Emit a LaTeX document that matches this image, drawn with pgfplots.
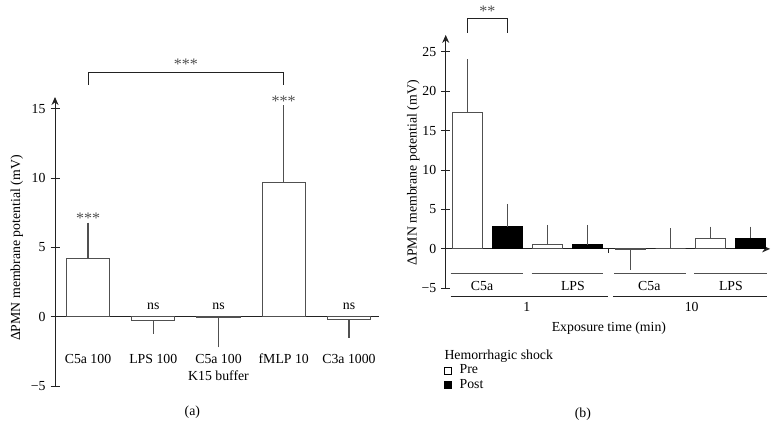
\documentclass[border=0pt]{standalone}
\usepackage{fontspec}
\setmainfont{Liberation Serif}
\usepackage{pgfplots}
\pgfplotsset{compat=1.18}
\usetikzlibrary{arrows.meta}
\definecolor{edge}{HTML}{505050}
\definecolor{axc}{HTML}{222222}
\begin{document}
\fontsize{6.9}{8.3}\selectfont
\begin{tikzpicture}
\useasboundingbox (0,0) rectangle (390pt,219.5pt);
\pgfplotsset{
 common/.style={
  scale only axis, anchor=south west, clip=false,
  axis y line=left,
  y axis line style={axc, line width=0.5pt, -{Stealth[length=4pt,width=3.5pt]}},
  x axis line style={axc, line width=0.5pt},
  tick align=center, major tick length=4.5pt,
  every tick/.style={axc, line width=0.5pt},
  x tick style={draw=none},
  hide obscured x ticks=false, hide obscured y ticks=false,
  ylabel={ΔPMN membrane potential (mV)},
  ylabel style={rotate=0, anchor=center},
  error bars/error bar style={edge, line width=0.55pt},
  error bars/error mark options={mark size=1.5pt, edge, line width=0.55pt},
 }
}
% ---------------- panel (a)
\begin{axis}[common, at={(27.5pt,26.5pt)}, width=162pt, height=144.5pt,
 xmin=-0.506, xmax=4.46, ymin=-5, ymax=15.86,
 axis x line*=middle,
 ytick={-5,0,5,10,15}, yticklabels={−5,0,5,10,15},
 xtick={0,1,2,3,4}, xticklabels={C5a 100, LPS 100, C5a 100, fMLP 10, C3a 1000},
 xticklabel style={anchor=base, yshift=-21pt},
 ylabel style={at={(axis description cs:-0.118,0.477)}},
]
\addplot[ybar, bar width=21.5pt, bar shift=0pt, draw=edge, fill=white, line width=0.6pt,
  error bars/.cd, y dir=plus, y explicit]
  coordinates {(0,4.18) +- (0,2.40) (3,9.68) +- (0,5.37)};
\addplot[ybar, bar width=21.5pt, bar shift=0pt, draw=edge, fill=white, line width=0.6pt,
  error bars/.cd, y dir=minus, y explicit]
  coordinates {(1,-0.29) +- (0,0.71) (2,-0.08) +- (0,1.92) (4,-0.2) +- (0,1.1)};
\draw[axc, line width=0.5pt] (axis cs:0,16.75) -- (axis cs:0,17.64) -- (axis cs:3,17.64) -- (axis cs:3,16.75);
\node[anchor=south, inner sep=1pt, text=edge, font=\fontsize{8}{9}\selectfont] at (axis cs:1.5,17.64) {***};
\node[anchor=south, inner sep=0pt, text=edge, font=\fontsize{8}{9}\selectfont] at (axis cs:0,6.7) {***};
\node[anchor=south, inner sep=0pt, text=edge, font=\fontsize{8}{9}\selectfont] at (axis cs:3,15.15) {***};
\node[anchor=base, inner sep=0pt] at (axis cs:1,0.5) {ns};
\node[anchor=base, inner sep=0pt] at (axis cs:2,0.5) {ns};
\node[anchor=base, inner sep=0pt] at (axis cs:4,0.5) {ns};
\node[anchor=base, inner sep=0pt] at (axis cs:2,-4.61) {K15 buffer};
\node[anchor=base, inner sep=0pt] at (axis cs:1.6,-7.1) {(a)};
\end{axis}
% ---------------- panel (b)
\begin{axis}[common, at={(222.85pt,75.35pt)}, width=162.2pt, height=126.7pt,
 xmin=-0.54, xmax=7.57, ymin=-5, ymax=27.15,
 axis x line=middle,
 x axis line style={axc, line width=0.5pt, -{Stealth[length=4pt,width=3.5pt]}},
 ytick={-5,0,5,10,15,20,25}, yticklabels={−5,0,5,10,15,20,25},
 xtick=\empty,
 ylabel style={at={(axis description cs:-0.1,0.455)}},
 legend cell align=left,
 legend style={at={(axis description cs:-0.005,-0.296)}, anchor=north west, draw=none, fill=none,
   inner sep=0pt, row sep=0.6pt, column sep=3pt, nodes={inner sep=0.6pt}},
]
\addplot[ybar, bar width=15pt, bar shift=0pt, draw=edge, fill=white, line width=0.6pt,
  legend image code/.code={\draw[black, fill=white, line width=0.45pt] (0pt,-1.75pt) rectangle (3.5pt,1.75pt);},
  error bars/.cd, y dir=plus, y explicit]
  coordinates {(0,17.29) +- (0,6.4) (2,0.55) +- (0,2.12) (6.08,1.36) +- (0,1.1)};
\addlegendentry{Pre}
\addplot[ybar, bar width=15pt, bar shift=0pt, draw=black, fill=black, line width=0.5pt,
  legend image code/.code={\draw[black, fill=black, line width=0.45pt] (0pt,-1.75pt) rectangle (3.5pt,1.75pt);},
  error bars/.cd, y dir=plus, y explicit]
  coordinates {(1,2.80) +- (0,2.54) (3,0.55) +- (0,2.12) (7.08,1.36) +- (0,1.1)};
\addlegendentry{Post}
\addplot[forget plot, ybar, bar width=15pt, bar shift=0pt, draw=edge, fill=white, line width=0.6pt,
  error bars/.cd, y dir=minus, y explicit]
  coordinates {(4.08,-0.08) +- (0,2.21)};
\addplot[forget plot, ybar, bar width=15pt, bar shift=0pt, draw=edge, fill=none, line width=0.5pt,
  error bars/.cd, y dir=plus, y explicit]
  coordinates {(5.08,0) +- (0,2.25)};
\draw[axc, line width=0.5pt] (axis cs:3.525,0) -- (axis cs:3.525,-0.5);
\draw[axc, line width=0.5pt] (axis cs:0,27.4) -- (axis cs:0,29.2) -- (axis cs:1,29.2) -- (axis cs:1,27.4);
\node[anchor=south, inner sep=1pt, text=edge, font=\fontsize{8}{9}\selectfont] at (axis cs:0.5,29.2) {**};
\draw[edge, line width=0.6pt] (axis cs:-0.415,-3.13) -- (axis cs:1.4,-3.13);
\draw[edge, line width=0.6pt] (axis cs:1.61,-3.13) -- (axis cs:3.385,-3.13);
\draw[edge, line width=0.6pt] (axis cs:3.67,-3.13) -- (axis cs:5.47,-3.13);
\draw[edge, line width=0.6pt] (axis cs:5.67,-3.13) -- (axis cs:7.485,-3.13);
\node[anchor=base, inner sep=0pt] at (axis cs:0.37,-5.34) {C5a};
\node[anchor=base, inner sep=0pt] at (axis cs:2.64,-5.34) {LPS};
\node[anchor=base, inner sep=0pt] at (axis cs:4.55,-5.34) {C5a};
\node[anchor=base, inner sep=0pt] at (axis cs:6.59,-5.34) {LPS};
\draw[axc, line width=0.5pt] (axis cs:-0.415,-6.1) -- (axis cs:3.51,-6.1);
\draw[axc, line width=0.5pt] (axis cs:3.64,-6.1) -- (axis cs:7.485,-6.1);
\node[anchor=base, inner sep=0pt] at (axis cs:1.485,-7.89) {1};
\node[anchor=base, inner sep=0pt] at (axis cs:5.61,-7.89) {10};
\node[anchor=base, inner sep=0pt] at (axis cs:3.54,-10.5) {Exposure time (min)};
\node[anchor=base west, inner sep=0pt] at (axis cs:-0.58,-14.05) {Hemorrhagic shock};
\node[anchor=base, inner sep=0pt] at (axis cs:2.89,-21.35) {(b)};
\end{axis}
\end{tikzpicture}
\end{document}
